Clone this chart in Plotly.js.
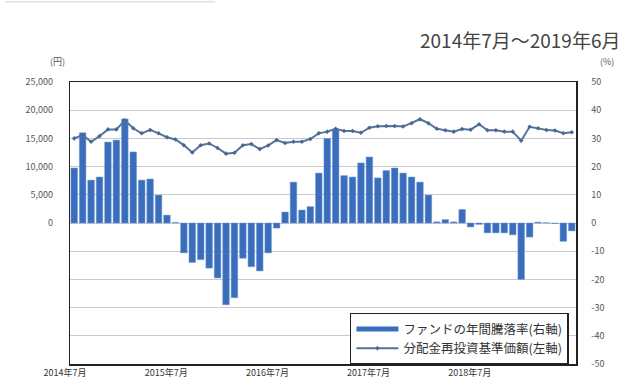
<!DOCTYPE html>
<html>
<head>
<meta charset="utf-8">
<script src="https://cdn.plot.ly/plotly-3.0.1.min.js"></script>
<style>html,body{margin:0;padding:0;background:#fff;}#chart{width:625px;height:385px;}</style>
</head>
<body>
<div id="chart"></div>
<script>
// Months from Jul 2014 to Jun 2019 (index 0..59)
const monthIndex = Array.from({length: 60}, (_, i) => i);
const tickLabels = ['2014年7月', '2015年7月', '2016年7月', '2017年7月', '2018年7月'];
const tickMonths = [0, 12, 24, 36, 48];

// Fund annual return (%), right axis
const annualReturn = [
  19.5, 32, 15.2, 16.3, 28.7, 29.4, 36.9, 25.2, 15.2, 15.6, 9.9, 2.8,
  0.2, -10.6, -14, -13, -16, -19.5, -29, -26.5, -12.5, -15.5, -17, -10.6,
  -1.8, 3.9, 14.5, 4.6, 5.8, 17.7, 30, 33.3, 16.8, 16.3, 21.3, 23.4,
  16, 18.6, 19.5, 17.7, 16.3, 14.5, 9.9, 0.4, 1.2, 0.4, 4.8, -1.4,
  -0.5, -3.5, -3.5, -3.5, -4.2, -20, -5, 0.3, 0.1, -0.2, -6.5, -2.8
];

// NAV with dividends reinvested (yen), left axis
const navReinvested = [
  15000, 15600, 14400, 15400, 16600, 16600, 18200, 16800, 15900, 16500, 15900, 15200,
  14800, 13800, 12500, 13800, 14100, 13300, 12300, 12450, 13800, 14000, 13100, 13750,
  14700, 14200, 14400, 14400, 14900, 15900, 16200, 16700, 16300, 16300, 16000, 16900,
  17150, 17200, 17200, 17100, 17700, 18400, 17700, 16700, 16450, 16200, 16650, 16550,
  17500, 16450, 16450, 16200, 16200, 14600, 17050, 16800, 16500, 16400, 15900, 16100
];

const leftTicks = [0, 5000, 10000, 15000, 20000, 25000];
const leftTickText = ['0', '5,000', '10,000', '15,000', '20,000', '25,000'];
const rightTicks = [50, 40, 30, 20, 10, 0, -10, -20, -30, -40, -50];

const seriesNames = ['ファンドの年間騰落率(右軸)', '分配金再投資基準価額(左軸)'];

const font = '"Noto Sans CJK JP", "Noto Sans", sans-serif';
const barColor = '#3b6dbd';

const traces = [
  {
    type: 'bar',
    x: monthIndex,
    y: annualReturn,
    name: seriesNames[0],
    yaxis: 'y',
    showlegend: false,
    legendgroup: 'ret',
    marker: {color: barColor, line: {color: '#6f9ad6', width: 0.5}},
    hoverinfo: 'skip'
  },
  {
    // legend-only entry drawn as a thick bar, as in the original legend
    type: 'scatter',
    mode: 'lines',
    x: [null],
    y: [null],
    name: seriesNames[0],
    legendgroup: 'ret',
    yaxis: 'y',
    line: {color: barColor, width: 5},
    hoverinfo: 'skip'
  },
  {
    type: 'scatter',
    mode: 'lines+markers',
    x: monthIndex,
    y: navReinvested,
    name: seriesNames[1],
    yaxis: 'y2',
    line: {color: '#55739f', width: 2},
    marker: {color: '#4a6794', size: 3.5, symbol: 'diamond'},
    hoverinfo: 'skip'
  }
];

const layout = {
  width: 625,
  height: 385,
  margin: {l: 70, r: 49, t: 82, b: 21},
  paper_bgcolor: '#ffffff',
  plot_bgcolor: '#ffffff',
  font: {family: font, color: '#555', size: 9},
  showlegend: true,
  bargap: 0.22,
  xaxis: {
    range: [-0.5, 59.5],
    tickvals: tickMonths.map(v => v - 0.5),
    ticktext: tickLabels,
    ticklabelshift: -5,
    showgrid: false,
    zeroline: false,
    showline: true,
    mirror: true,
    linecolor: '#222',
    linewidth: 1.5,
    ticks: '',
    tickfont: {size: 9, color: '#333', family: font},
    fixedrange: true
  },
  yaxis: {
    side: 'right',
    range: [-50, 50],
    tickvals: rightTicks,
    ticktext: rightTicks.map(String),
    showgrid: true,
    gridcolor: '#c9c9c9',
    gridwidth: 1,
    zeroline: false,
    showline: true,
    mirror: true,
    linecolor: '#222',
    linewidth: 1.5,
    ticks: '',
    ticklabelstandoff: 12,
    tickfont: {size: 9, color: '#555', family: font},
    fixedrange: true
  },
  yaxis2: {
    side: 'left',
    overlaying: 'y',
    range: [-25000, 25000],
    tickvals: leftTicks,
    ticktext: leftTickText,
    showgrid: false,
    zeroline: false,
    showline: false,
    ticks: '',
    ticklabelstandoff: 16,
    tickfont: {size: 9, color: '#555', family: font},
    fixedrange: true
  },
  legend: {
    x: 0.986,
    y: 0.181,
    xanchor: 'right',
    yanchor: 'top',
    bgcolor: '#ffffff',
    bordercolor: '#222',
    borderwidth: 1.5,
    font: {size: 12.5, color: '#333', family: font},
    tracegroupgap: 0,
    itemwidth: 42,
    traceorder: 'normal'
  },
  annotations: [
    {
      text: '2014年7月～2019年6月',
      xref: 'paper', yref: 'paper',
      x: 1.091, y: 1.149,
      xanchor: 'right', yanchor: 'middle',
      showarrow: false,
      font: {size: 19, color: '#444', family: font}
    },
    {
      text: '(円)',
      xref: 'paper', yref: 'paper',
      x: -0.024, y: 1.071,
      xanchor: 'center', yanchor: 'middle',
      showarrow: false,
      font: {size: 9, color: '#555', family: font}
    },
    {
      text: '(%)',
      xref: 'paper', yref: 'paper',
      x: 1.061, y: 1.071,
      xanchor: 'center', yanchor: 'middle',
      showarrow: false,
      font: {size: 9, color: '#555', family: font}
    }
  ],
  shapes: [
    {
      type: 'line', xref: 'paper', yref: 'paper',
      x0: -0.128, x1: 0.287, y0: 1.285, y1: 1.285,
      line: {color: '#d6e4f0', width: 1.5}
    }
  ]
};

Plotly.newPlot('chart', traces, layout, {displayModeBar: false, staticPlot: true});
</script>
</body>
</html>
